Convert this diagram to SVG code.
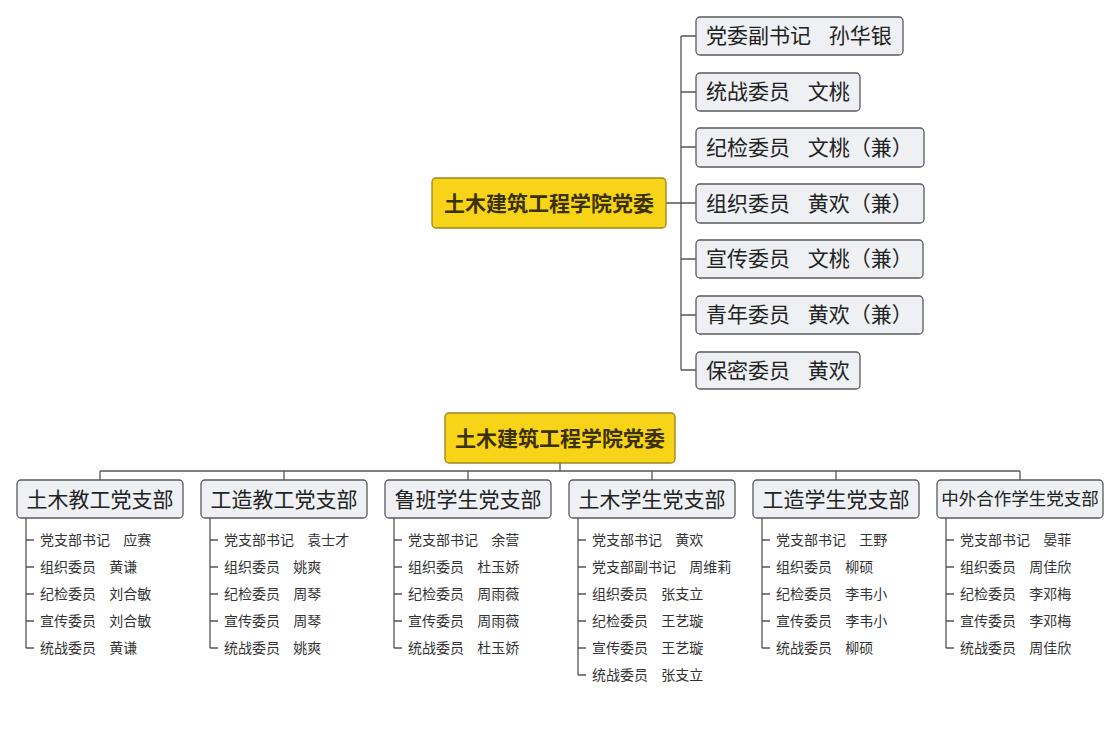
<svg xmlns="http://www.w3.org/2000/svg" width="1120" height="750" viewBox="0 0 1120 750">
<style>
text{font-family:"Noto Sans CJK SC","Noto Sans",sans-serif;}
.root rect{fill:#F7D417;stroke:#9c8420;stroke-width:1.3;}
.root text{font-size:21px;font-weight:bold;fill:#3a3000;text-anchor:middle;}
.box rect{fill:#EEF0F3;stroke:#5a5a5a;stroke-width:1.3;}
.box text{font-size:21px;fill:#222;}
.br text.hd{text-anchor:middle;}
.box text.item{font-size:14px;fill:#333;text-anchor:start;}
.conn path{fill:none;stroke:#555;stroke-width:1.3;}
</style>
<rect width="1120" height="750" fill="#fff"/>
<g class="conn">
<path d="M666 203H681M681 36V370M681 36H696M681 92H696M681 147H696M681 203H696M681 259H696M681 315H696M681 370H696"/>
<path d="M560 463V471M100 471H1020M100 471V480M284 471V480M468 471V480M652 471V480M836 471V480M1020 471V480"/>
<path d="M26 518V648M26 540H34M26 567H34M26 594H34M26 621H34M26 648H34"/>
<path d="M210 518V648M210 540H218M210 567H218M210 594H218M210 621H218M210 648H218"/>
<path d="M394 518V648M394 540H402M394 567H402M394 594H402M394 621H402M394 648H402"/>
<path d="M578 518V675M578 540H586M578 567H586M578 594H586M578 621H586M578 648H586M578 675H586"/>
<path d="M762 518V648M762 540H770M762 567H770M762 594H770M762 621H770M762 648H770"/>
<path d="M946 518V648M946 540H954M946 567H954M946 594H954M946 621H954M946 648H954"/>
</g>
<g id="top-root" class="root"><rect x="432" y="178" width="234" height="50" rx="4"/><text x="549" y="211">土木建筑工程学院党委</text></g>
<g id="t1" class="box"><rect x="696" y="17" width="207" height="38" rx="4"/><text x="706" y="43">党委副书记<tspan dx="13"> 孙华银</tspan></text></g>
<g id="t2" class="box"><rect x="696" y="73" width="164" height="38" rx="4"/><text x="706" y="99">统战委员<tspan dx="13"> 文桃</tspan></text></g>
<g id="t3" class="box"><rect x="696" y="128" width="228" height="39" rx="4"/><text x="706" y="155">纪检委员<tspan dx="13"> 文桃（兼）</tspan></text></g>
<g id="t4" class="box"><rect x="696" y="184" width="228" height="39" rx="4"/><text x="706" y="211">组织委员<tspan dx="13"> 黄欢（兼）</tspan></text></g>
<g id="t5" class="box"><rect x="696" y="240" width="227" height="38" rx="4"/><text x="706" y="266">宣传委员<tspan dx="13"> 文桃（兼）</tspan></text></g>
<g id="t6" class="box"><rect x="696" y="296" width="227" height="38" rx="4"/><text x="706" y="322">青年委员<tspan dx="13"> 黄欢（兼）</tspan></text></g>
<g id="t7" class="box"><rect x="696" y="352" width="164" height="37" rx="4"/><text x="706" y="378">保密委员<tspan dx="13"> 黄欢</tspan></text></g>

<g id="bottom-root" class="root"><rect x="445" y="413" width="230" height="50" rx="4"/><text x="560" y="446">土木建筑工程学院党委</text></g>

<g id="b1" class="box br"><rect x="17" y="480" width="166" height="38" rx="4"/><text class="hd" x="100" y="507">土木教工党支部</text>
<text class="item" x="40" y="545">党支部书记<tspan dx="10"> 应赛</tspan></text>
<text class="item" x="40" y="572">组织委员<tspan dx="10"> 黄谦</tspan></text>
<text class="item" x="40" y="599">纪检委员<tspan dx="10"> 刘合敏</tspan></text>
<text class="item" x="40" y="626">宣传委员<tspan dx="10"> 刘合敏</tspan></text>
<text class="item" x="40" y="653">统战委员<tspan dx="10"> 黄谦</tspan></text></g>

<g id="b2" class="box br"><rect x="201" y="480" width="166" height="38" rx="4"/><text class="hd" x="284" y="507">工造教工党支部</text>
<text class="item" x="224" y="545">党支部书记<tspan dx="10"> 袁士才</tspan></text>
<text class="item" x="224" y="572">组织委员<tspan dx="10"> 姚爽</tspan></text>
<text class="item" x="224" y="599">纪检委员<tspan dx="10"> 周琴</tspan></text>
<text class="item" x="224" y="626">宣传委员<tspan dx="10"> 周琴</tspan></text>
<text class="item" x="224" y="653">统战委员<tspan dx="10"> 姚爽</tspan></text></g>

<g id="b3" class="box br"><rect x="385" y="480" width="166" height="38" rx="4"/><text class="hd" x="468" y="507">鲁班学生党支部</text>
<text class="item" x="408" y="545">党支部书记<tspan dx="10"> 余营</tspan></text>
<text class="item" x="408" y="572">组织委员<tspan dx="10"> 杜玉娇</tspan></text>
<text class="item" x="408" y="599">纪检委员<tspan dx="10"> 周雨薇</tspan></text>
<text class="item" x="408" y="626">宣传委员<tspan dx="10"> 周雨薇</tspan></text>
<text class="item" x="408" y="653">统战委员<tspan dx="10"> 杜玉娇</tspan></text></g>

<g id="b4" class="box br"><rect x="569" y="480" width="166" height="38" rx="4"/><text class="hd" x="652" y="507">土木学生党支部</text>
<text class="item" x="592" y="545">党支部书记<tspan dx="10"> 黄欢</tspan></text>
<text class="item" x="592" y="572">党支部副书记<tspan dx="10"> 周维莉</tspan></text>
<text class="item" x="592" y="599">组织委员<tspan dx="10"> 张支立</tspan></text>
<text class="item" x="592" y="626">纪检委员<tspan dx="10"> 王艺璇</tspan></text>
<text class="item" x="592" y="653">宣传委员<tspan dx="10"> 王艺璇</tspan></text>
<text class="item" x="592" y="680">统战委员<tspan dx="10"> 张支立</tspan></text></g>

<g id="b5" class="box br"><rect x="753" y="480" width="166" height="38" rx="4"/><text class="hd" x="836" y="507">工造学生党支部</text>
<text class="item" x="776" y="545">党支部书记<tspan dx="10"> 王野</tspan></text>
<text class="item" x="776" y="572">组织委员<tspan dx="10"> 柳硕</tspan></text>
<text class="item" x="776" y="599">纪检委员<tspan dx="10"> 李韦小</tspan></text>
<text class="item" x="776" y="626">宣传委员<tspan dx="10"> 李韦小</tspan></text>
<text class="item" x="776" y="653">统战委员<tspan dx="10"> 柳硕</tspan></text></g>

<g id="b6" class="box br"><rect x="937" y="480" width="166" height="38" rx="4"/><text class="hd" x="1020" y="505" style="font-size:17.5px">中外合作学生党支部</text>
<text class="item" x="960" y="545">党支部书记<tspan dx="10"> 晏菲</tspan></text>
<text class="item" x="960" y="572">组织委员<tspan dx="10"> 周佳欣</tspan></text>
<text class="item" x="960" y="599">纪检委员<tspan dx="10"> 李邓梅</tspan></text>
<text class="item" x="960" y="626">宣传委员<tspan dx="10"> 李邓梅</tspan></text>
<text class="item" x="960" y="653">统战委员<tspan dx="10"> 周佳欣</tspan></text></g>
</svg>
